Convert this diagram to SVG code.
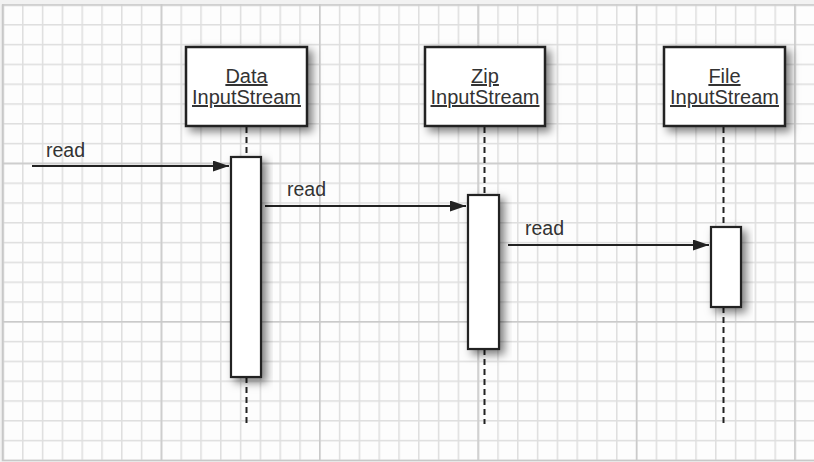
<svg xmlns="http://www.w3.org/2000/svg" width="814" height="462" viewBox="0 0 814 462">
  <defs>
    <pattern id="minor" x="2.25" y="4.25" width="19.8" height="19.8" patternUnits="userSpaceOnUse">
      <path d="M0 0.75H19.8M0.75 0V19.8" stroke="#dedede" stroke-width="1.5" fill="none"/>
    </pattern>
    <pattern id="major" x="2.25" y="4.25" width="158.4" height="158.4" patternUnits="userSpaceOnUse">
      <path d="M0 0.75H158.4M0.75 0V158.4" stroke="#c9c9c9" stroke-width="1.5" fill="none"/>
    </pattern>
    <filter id="shadow" x="-40%" y="-40%" width="180%" height="180%">
      <feDropShadow dx="4.5" dy="4.5" stdDeviation="4.5" flood-color="#000" flood-opacity="0.5"/>
    </filter>
    <marker id="arrow" markerUnits="userSpaceOnUse" markerWidth="17" markerHeight="12" refX="16" refY="5.5" orient="auto">
      <path d="M0,0 L16,5.5 L0,11 Z" fill="#222"/>
    </marker>
    <style>
      .box { fill: #fff; stroke: #222; stroke-width: 2.5; filter: url(#shadow); }
      .act { fill: #fff; stroke: #222; stroke-width: 2.2; filter: url(#shadow); }
      .life { stroke: #222; stroke-width: 2; stroke-dasharray: 6 4; fill: none; }
      .msg { stroke: #222; stroke-width: 2.2; fill: none; marker-end: url(#arrow); }
      .name { font-family: "Liberation Sans", Arial, sans-serif; font-size: 20px; fill: #333; text-anchor: middle; text-decoration: underline; }
      .lbl { font-family: "Liberation Sans", Arial, sans-serif; font-size: 19.5px; fill: #333; }
    </style>
  </defs>

  <g id="background">
    <rect x="0" y="0" width="814" height="462" fill="#f2f2f2"/>
    <rect x="2" y="4" width="812" height="456" fill="#fdfdfd"/>
    <rect x="2" y="4" width="812" height="456" fill="url(#minor)"/>
    <rect x="2" y="4" width="812" height="456" fill="url(#major)"/>
    <path d="M2.5 4.5V460.5H814" stroke="#c8c8c8" stroke-width="1.5" fill="none"/>
  </g>

  <g id="connectors">
    <path class="life" d="M246.5 127V157"/>
    <path class="life" d="M246.5 377V424"/>
    <path class="life" d="M484.5 127V195"/>
    <path class="life" d="M484.5 349V424"/>
    <path class="life" d="M723.5 127V227"/>
    <path class="life" d="M723.5 307V424"/>
    <path class="msg" d="M32 166H229"/>
    <path class="msg" d="M265 206H466"/>
    <path class="msg" d="M508 245H709"/>
    <text class="lbl" x="46" y="157">read</text>
    <text class="lbl" x="287" y="196">read</text>
    <text class="lbl" x="525" y="235">read</text>
  </g>

  <g id="data-inputstream">
    <rect class="box" x="186" y="47" width="121" height="79"/>
    <text class="name" x="246.5" y="83">Data</text>
    <text class="name" x="246.5" y="104">InputStream</text>
    <rect class="act" x="231" y="157" width="30" height="220"/>
  </g>

  <g id="zip-inputstream">
    <rect class="box" x="425" y="47" width="120" height="79"/>
    <text class="name" x="485" y="83">Zip</text>
    <text class="name" x="485" y="104">InputStream</text>
    <rect class="act" x="468" y="195" width="31" height="154"/>
  </g>

  <g id="file-inputstream">
    <rect class="box" x="664" y="47" width="121" height="79"/>
    <text class="name" x="724.5" y="83">File</text>
    <text class="name" x="724.5" y="104">InputStream</text>
    <rect class="act" x="711" y="227" width="30" height="80"/>
  </g>
</svg>
